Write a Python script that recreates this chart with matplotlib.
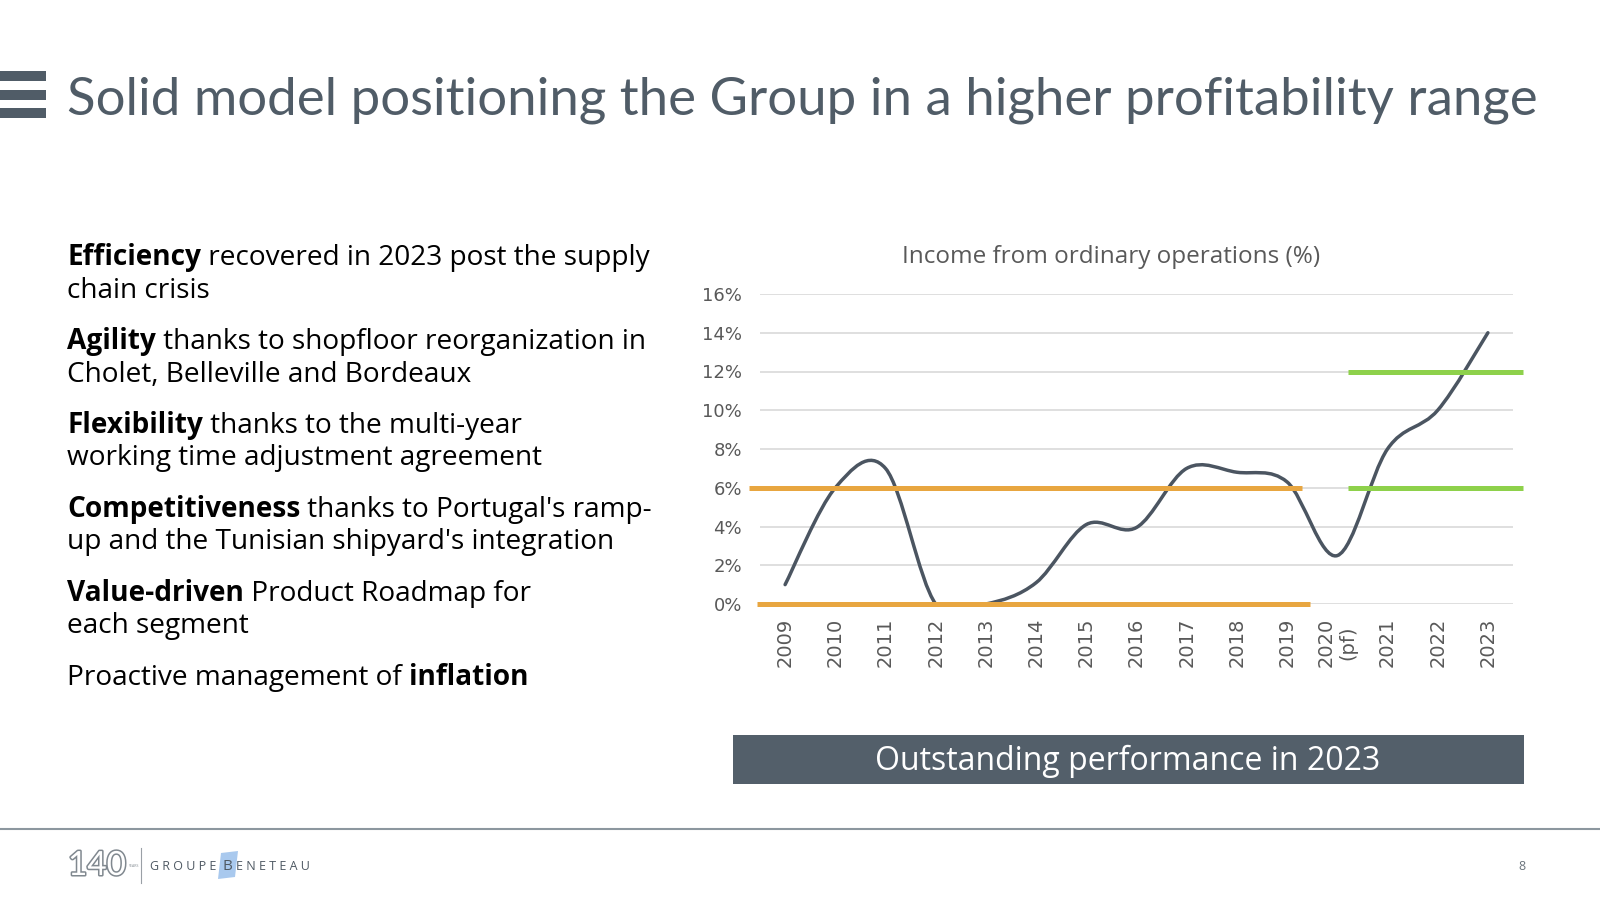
import matplotlib
matplotlib.use("Agg")
import matplotlib.pyplot as plt
import matplotlib.patheffects as pe
from matplotlib.path import Path
from matplotlib.patches import PathPatch, Rectangle, Polygon
import numpy as np

W, H = 1600, 900

# chart data
years = ["2009", "2010", "2011", "2012", "2013", "2014", "2015", "2016",
         "2017", "2018", "2019", "2020\n(pf)", "2021", "2022", "2023"]
income_pct = [1.0, 6.0, 7.0, 0.0, 0.0, 1.1, 4.1, 3.95, 7.0, 6.8, 6.3, 2.5, 8.0, 10.0, 14.0]
yticks = [0, 2, 4, 6, 8, 10, 12, 14, 16]

# range markers: level (%), start / end in category units
orange_levels = [6, 0]
orange_starts = [-0.72, -0.56]
orange_ends = [10.3, 10.46]
green_levels = [12, 6]
green_starts = [11.21, 11.21]
green_ends = [14.7, 14.7]

title = "Solid model positioning the Group in a higher profitability range"
bullets = [
    [[("Efficiency", True), (" recovered in 2023 post the supply", False)],
     [("chain crisis", False)]],
    [[("Agility", True), (" thanks to shopfloor reorganization in", False)],
     [("Cholet, Belleville and Bordeaux", False)]],
    [[("Flexibility", True), (" thanks to the multi-year", False)],
     [("working time adjustment agreement", False)]],
    [[("Competitiveness", True), (" thanks to Portugal's ramp-", False)],
     [("up and the Tunisian shipyard's integration", False)]],
    [[("Value-driven", True), (" Product Roadmap for", False)],
     [("each segment", False)]],
    [[("Proactive management of ", False), ("inflation", True)]],
]

slate = "#505C67"
grey_txt = "#595959"
BODY = "Open Sans"
NUM = "DejaVu Sans"


def fx(px):
    return px / W


def fy(py):
    return 1 - py / H


def smooth_path(xs, ys):
    # Excel-style smoothed line (cubic Bezier through the points)
    pts = np.column_stack([xs, ys]).astype(float)
    n = len(pts)
    verts = [pts[0]]
    codes = [Path.MOVETO]
    for i in range(n - 1):
        p0 = pts[i - 1] if i > 0 else pts[i]
        p1, p2 = pts[i], pts[i + 1]
        p3 = pts[i + 2] if i + 2 < n else pts[i + 1]
        verts += [p1 + (p2 - p0) / 6, p2 - (p3 - p1) / 6, p2]
        codes += [Path.CURVE4] * 3
    return Path(verts, codes)


fig = plt.figure(figsize=(16, 9), dpi=100)
bg = fig.add_axes([0, 0, 1, 1])
bg.set_xlim(0, W)
bg.set_ylim(H, 0)
bg.axis("off")

# header icon + title
for top in [71, 90, 108]:
    bg.add_patch(Rectangle((0, top), 46, 10, color=slate, lw=0))
t = bg.text(67, 114, title, fontsize=40, color=slate, family="Lato",
            va="baseline", ha="left")
fig.canvas.draw()
tw = t.get_window_extent().width
t.set_fontsize(40 * 1468 / tw)

# bullet text
y0 = 265
for para in bullets:
    yl = y0
    for line in para:
        prev = None
        for txt, bold in line:
            kw = dict(fontsize=20.2, family=BODY, color="black",
                      fontweight="bold" if bold else "normal")
            if prev is None:
                prev = bg.text(67, yl, txt, va="baseline", ha="left", **kw)
            else:
                prev = bg.annotate(txt, xy=(1, 0), xycoords=prev,
                                   va="bottom", ha="left", **kw)
        yl += 32.5
    y0 += 84

# chart
ax = fig.add_axes([fx(760), fy(604), (1513 - 760) / W, (604 - 294) / H])
x = np.arange(len(years))
ax.set_xlim(-0.5, len(years) - 0.5)
ax.set_ylim(0, 16)
ax.set_yticks(yticks)
ax.set_yticklabels([f"{v}%" for v in yticks])
ax.set_xticks(x)
ax.set_xticklabels(years, rotation=90, multialignment="center")
for lab in ax.get_xticklabels() + ax.get_yticklabels():
    lab.set_family(NUM)
ax.tick_params(axis="y", length=0, labelsize=13, colors=grey_txt, pad=13)
ax.tick_params(axis="x", length=0, labelsize=14, colors=grey_txt, pad=10)
ax.grid(axis="y", color="#D9D9D9", lw=1.2)
ax.set_axisbelow(True)
for s in ax.spines.values():
    s.set_visible(False)
ax.patch.set_alpha(0)

ax.add_patch(PathPatch(smooth_path(x, income_pct), fill=False,
                       ec="#4B5561", lw=2.5, capstyle="round", zorder=3))

for lv, a, b in zip(orange_levels, orange_starts, orange_ends):
    ax.plot([a, b], [lv, lv], color="#E8A640", lw=3.6, clip_on=False,
            solid_capstyle="butt", zorder=4)
for lv, a, b in zip(green_levels, green_starts, green_ends):
    ax.plot([a, b], [lv, lv], color="#8ED14B", lw=3.6, clip_on=False,
            solid_capstyle="butt", zorder=4)

bg.text(1111, 257, "Income from ordinary operations (%)", fontsize=17.5,
        family=BODY, color=grey_txt, ha="center", va="center")

# banner
bg.add_patch(Rectangle((733, 735), 791, 49, color="#535F6A", lw=0))
bg.text(1128, 761, "Outstanding performance in 2023", fontsize=23,
        family=BODY, color="white", ha="center", va="center")

# footer
bg.plot([0, W], [829, 829], color="#8C979F", lw=1.5)
bg.text(68, 866, "140", fontsize=24, family="Lato", color="white",
        ha="left", va="center",
        path_effects=[pe.withStroke(linewidth=2.2, foreground="#80888F")])
bg.text(129, 866, "YEARS", fontsize=2.5, family=BODY, color="#80888F",
        ha="left", va="center")
bg.plot([141, 141], [848, 883], color="#9AA0A6", lw=0.8)
bg.add_patch(Polygon([[221, 853], [238, 851], [235, 877], [218, 879]],
                     closed=True, color="#A9C9EE", lw=0))
bg.text(150, 866, "G R O U P E", fontsize=9, family=BODY,
        color="#4F5963", ha="left", va="center")
bg.text(222, 866, "B", fontsize=11, family=BODY,
        color="#4F5963", ha="left", va="center")
bg.text(236, 866, "E N E T E A U", fontsize=9, family=BODY,
        color="#4F5963", ha="left", va="center")
bg.text(1522, 866, "8", fontsize=9, family=BODY, color="#6B747C",
        ha="center", va="center")

fig.savefig("out.png", dpi=100)
